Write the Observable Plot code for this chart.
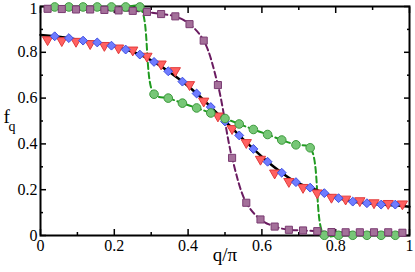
<!DOCTYPE html>
<html>
<head>
<meta charset="utf-8">
<script src="https://cdn.jsdelivr.net/npm/d3@7"></script>
<script src="https://cdn.jsdelivr.net/npm/@observablehq/plot@0.6"></script>
<style>
  html, body { margin: 0; padding: 0; background: #fff; overflow: hidden; }
</style>
</head>
<body>
<div id="chart"></div>
<script>
// q/pi grid (integer and half-integer momenta)
const qInt = [0.0385,0.0769,0.1154,0.1538,0.1923,0.2308,0.2692,0.3077,0.3462,0.3846,0.4231,0.4615,0.5,
              0.5385,0.5769,0.6154,0.6538,0.6923,0.7308,0.7692,0.8077,0.8462,0.8846,0.9231,0.9615];
const qHalf = [0.0192,0.0577,0.0962,0.1346,0.1731,0.2115,0.25,0.2885,0.3269,0.3654,0.4038,0.4423,0.4808,
               0.5192,0.5577,0.5962,0.6346,0.6731,0.7115,0.75,0.7885,0.8269,0.8654,0.9038,0.9423,0.9808];

// series values f_q
const blueDiamond = [0.870,0.862,0.851,0.843,0.829,0.812,0.790,0.758,0.717,0.672,0.620,0.561,0.498,
                     0.437,0.378,0.322,0.274,0.233,0.209,0.185,0.163,0.148,0.141,0.135,0.135];
const redTriangle = [0.855,0.851,0.848,0.838,0.830,0.819,0.810,0.783,0.749,0.720,0.659,0.587,0.522,
                     0.467,0.406,0.333,0.273,0.236,0.210,0.186,0.167,0.159,0.152,0.143,0.140,0.138];
const greenCircle = [0.998,0.998,0.998,0.998,0.998,0.998,0.998,0.617,0.600,0.578,0.557,0.535,0.511,
                     0.487,0.463,0.441,0.417,0.396,0.383,0.001,0.001,0.001,0.001,0.001,0.001];
const purpleSquare = [0.990,0.989,0.987,0.987,0.985,0.983,0.981,0.976,0.967,0.957,0.923,0.851,0.657,
                      0.339,0.143,0.070,0.039,0.025,0.022,0.019,0.015,0.014,0.014,0.014,0.014,0.012];

// solid black curve
const lineQ = [0,0.0385,0.0769,0.1154,0.1538,0.1923,0.2308,0.2692,0.3077,0.3462,0.3846,0.4231,0.4615,0.5,
               0.5385,0.5769,0.6154,0.6538,0.6923,0.7308,0.7692,0.8077,0.8462,0.8846,0.9231,0.9615,1];
const lineF = [0.876,0.870,0.862,0.851,0.843,0.829,0.812,0.790,0.758,0.717,0.672,0.620,0.561,0.500,
               0.437,0.378,0.322,0.274,0.233,0.209,0.185,0.163,0.148,0.141,0.135,0.132,0.126];

// ticks
const majorTicks = [0,0.2,0.4,0.6,0.8,1];
const minorTicks = [0.1,0.3,0.5,0.7,0.9];
const tickLabels = ["0","0.2","0.4","0.6","0.8","1"];

const zip = (qs, fs) => qs.map((q, i) => ({q, f: fs[i]}));
const blue = zip(qInt, blueDiamond);
const red = zip(qHalf, redTriangle);
const green = zip(qInt, greenCircle);
const purple = zip(qHalf, purpleSquare);
const black = zip(lineQ, lineF);
const fmt = d => tickLabels[majorTicks.indexOf(d)];

const tickAxes = [];
for (const [ticks, size] of [[majorTicks, 6], [minorTicks, 3]]) {
  tickAxes.push(
    Plot.axisX({ticks, anchor: "bottom", tickSize: size, dy: -size, tickFormat: () => "", strokeWidth: 1.5}),
    Plot.axisX({ticks, anchor: "top", tickSize: size, dy: size, tickFormat: () => "", strokeWidth: 1.5}),
    Plot.axisY({ticks, anchor: "left", tickSize: size, dx: size, tickFormat: () => "", strokeWidth: 1.5}),
    Plot.axisY({ticks, anchor: "right", tickSize: size, dx: -size, tickFormat: () => "", strokeWidth: 1.5})
  );
}

const SERIF = "Liberation Serif";

const chart = Plot.plot({
  width: 415,
  height: 272,
  marginLeft: 40,
  marginRight: 6,
  marginTop: 6,
  marginBottom: 37,
  x: {domain: [0, 1], label: null},
  y: {domain: [0, 1], label: null},
  style: {fontFamily: SERIF, fontSize: "16px", background: "#fff", color: "#000"},
  marks: [
    Plot.frame({stroke: "#000", strokeWidth: 2}),
    ...tickAxes,
    Plot.axisX({ticks: majorTicks, anchor: "bottom", tickSize: 0, tickPadding: 4, tickFormat: fmt, fontSize: 16}),
    Plot.axisY({ticks: majorTicks.slice(0, 5), anchor: "left", tickSize: 0, tickPadding: 3, tickFormat: fmt, fontSize: 16}),
    Plot.axisY({ticks: majorTicks.slice(5), anchor: "left", tickSize: 0, tickPadding: 3, tickFormat: fmt, fontSize: 16, dy: 2.5}),
    Plot.line(purple, {x: "q", y: "f", stroke: "#6a1b60", strokeWidth: 2, strokeDasharray: "6,3.5", curve: "catmull-rom"}),
    Plot.line(green, {x: "q", y: "f", stroke: "#1f9a1f", strokeWidth: 2, strokeDasharray: "6,3.5", curve: "catmull-rom"}),
    Plot.line(black, {x: "q", y: "f", stroke: "#000", strokeWidth: 2.5, curve: "natural"}),
    Plot.dot(red, {x: "q", y: "f", symbol: "triangle", rotate: 180, r: 3.8, fill: "#ff6161", stroke: "#e23b3b", strokeWidth: 1}),
    Plot.dot(blue, {x: "q", y: "f", symbol: "diamond2", r: 4, fill: "#6f7cff", stroke: "#3e4fe2", strokeWidth: 1}),
    Plot.dot(green, {x: "q", y: "f", symbol: "circle", r: 4.3, fill: "#77c777", stroke: "#3c9a3c", strokeWidth: 1}),
    Plot.dot(purple, {x: "q", y: "f", symbol: "square", r: 4, fill: "#a4709a", stroke: "#7a3b72", strokeWidth: 1}),
    Plot.text(["f"], {text: d => d, frameAnchor: "left", dx: -37, dy: -4, textAnchor: "start", fontSize: 19}),
    Plot.text(["q"], {text: d => d, frameAnchor: "left", dx: -32, dy: 6, textAnchor: "start", fontSize: 14}),
    Plot.text(["q/π"], {text: d => d, frameAnchor: "bottom", dy: 25, fontSize: 19})
  ]
});
chart.querySelectorAll("text, g").forEach(el => {
  el.setAttribute("font-family", SERIF);
  el.style.setProperty("font-family", SERIF, "important");
});
document.getElementById("chart").appendChild(chart);
</script>
</body>
</html>
